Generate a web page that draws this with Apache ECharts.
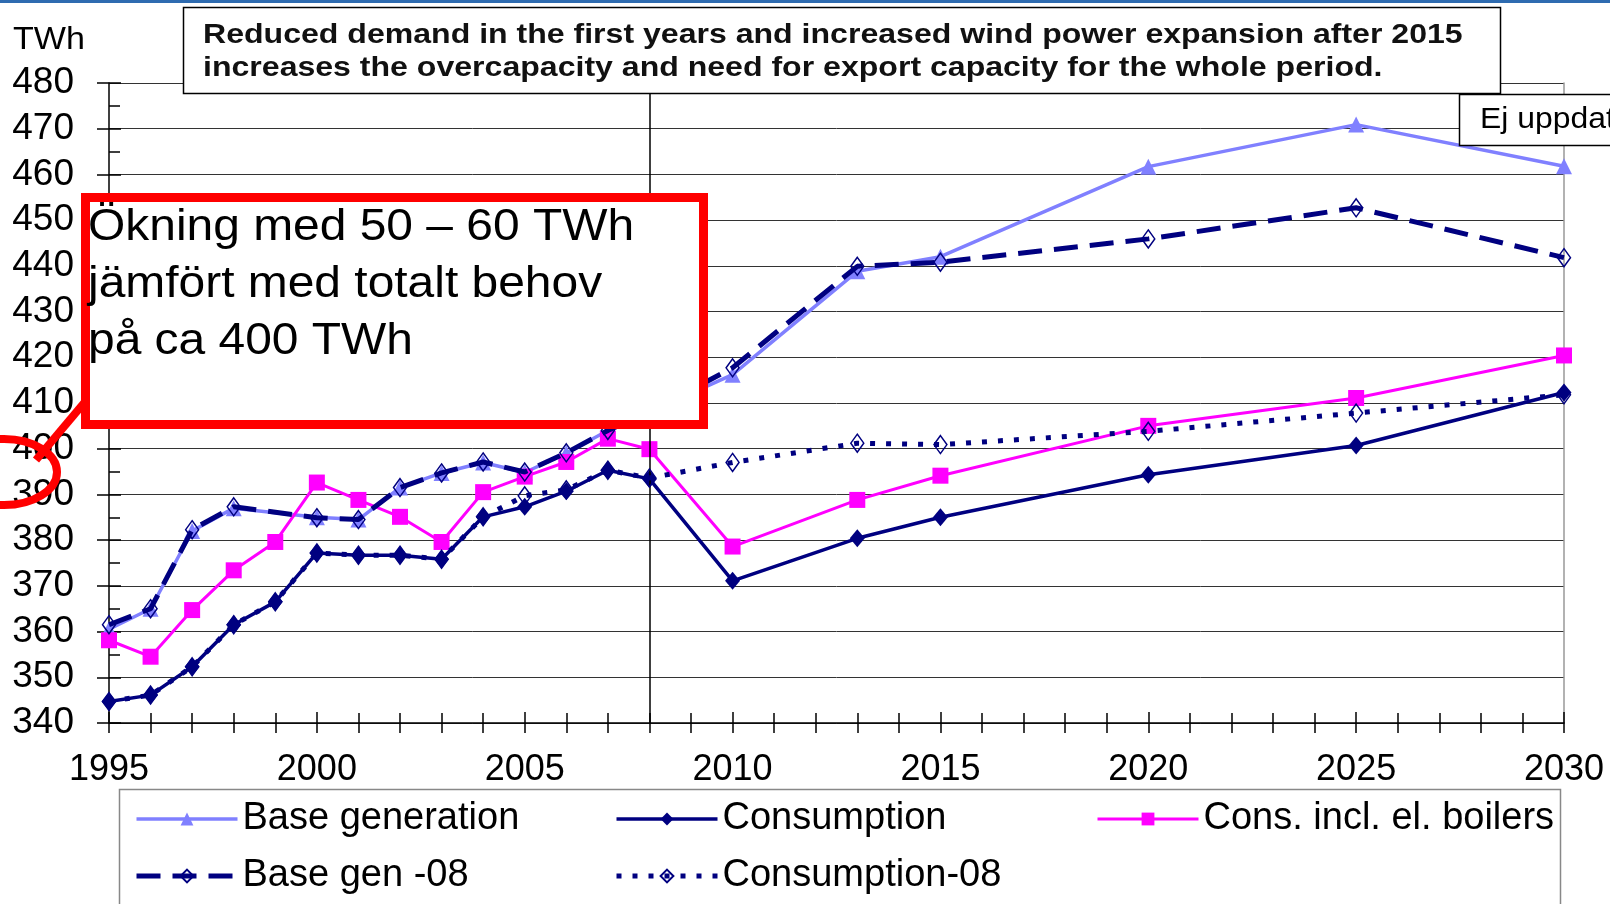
<!DOCTYPE html>
<html>
<head>
<meta charset="utf-8">
<script src="https://cdn.jsdelivr.net/npm/echarts@6/dist/echarts.min.js"></script>
<style>
html,body{margin:0;padding:0;background:#fff;}
#chart{width:1610px;height:904px;}
</style>
</head>
<body>
<div id="chart"></div>
<script>
// ---- data ----
const seriesNames = ['Base generation', 'Consumption', 'Cons. incl. el. boilers', 'Base gen -08', 'Consumption-08'];

const baseGenYears = [1995,1996,1997,1998,2000,2001,2002,2003,2004,2005,2006,2007,2008,2010,2013,2015,2020,2025,2030];
const baseGen      = [360.5,365,382,387,385,384.5,391.5,394.7,397,394.8,399,404,408,416.2,438.8,442,461.7,470.9,461.8];
const baseGen08    = [361.5,365,382.3,387.3,384.9,384.5,391.5,394.7,397.1,394.9,399.1,404,408,417.7,439.9,440.8,445.9,452.7,441.8];

const consYears    = [1995,1996,1997,1998,1999,2000,2001,2002,2003,2004,2005,2006,2007,2008,2010,2013,2015,2020,2025,2030];
const consumption  = [344.7,346.1,352.3,361.5,366.5,377.2,376.7,376.7,375.8,385.1,387.3,390.7,395.3,393.4,371.1,380.4,385.0,394.3,400.7,412.3];
const consBoilers  = [358.1,354.5,364.7,373.4,379.6,392.6,388.8,385.1,379.6,390.5,393.9,397.1,402.2,399.9,378.6,388.8,394.1,405.0,411.1,420.4];
const consumption08= [344.7,346.1,352.3,361.5,366.5,377.2,376.7,376.7,375.8,385.1,389.7,391.0,395.3,393.6,397.0,401.2,400.9,403.8,407.8,411.8];

const xMin = 1995, xMax = 2030, xStep = 5;
const yMin = 340, yMax = 480, yStep = 10;
const markYear = 2008;

const unitLabel = 'TWh';
const titleLines = ['Reduced demand in the first years and increased wind power expansion after 2015',
                    'increases the overcapacity and need for export capacity for the whole period.'];
const noteText = 'Ej uppdat';
const boxLines = ['Ökning med 50 – 60 TWh', 'jämfört med totalt behov', 'på ca 400 TWh'];

// ---- chart ----
const FONT = '"Liberation Sans", Arial, sans-serif';
const pair = (xs, ys) => xs.map((x, i) => [x, ys[i]]);
const chart = echarts.init(document.getElementById('chart'), null, {renderer: 'canvas'});

const LIGHT = '#8080FF', NAVY = '#000080', MAG = '#FF00FF';

const xCommon = {type: 'value', min: xMin, max: xMax, interval: xStep, gridIndex: 0, position: 'bottom'};
const yCommon = {type: 'value', min: yMin, max: yMax, interval: yStep, gridIndex: 0};

const legendBase = {
  orient: 'vertical', top: 800, itemGap: 19, padding: 0,
  itemWidth: 101, itemHeight: 16, height: 104,
  lineStyle: {width: 'inherit'},
  textStyle: {fontSize: 38, fontFamily: FONT, color: '#000', lineHeight: 38, padding: [0, 0, 0, 0]}
};

const option = {
  animation: false,
  backgroundColor: '#fff',
  grid: {left: 109, right: 46, top: 83, bottom: 181, containLabel: false, outerBoundsMode: 'none'},
  xAxis: [
    Object.assign({}, xCommon, {
      axisLine: {show: true, lineStyle: {color: '#000', width: 1.5}},
      axisTick: {show: true, length: 10, inside: false, lineStyle: {color: '#000', width: 1.5}},
      minorTick: {show: true, splitNumber: 5, length: 10, lineStyle: {color: '#000', width: 1.5}},
      axisLabel: {show: true, fontSize: 36, fontFamily: FONT, color: '#000', margin: 29,
                  formatter: v => String(v)},
      splitLine: {show: false}
    }),
    Object.assign({}, xCommon, {
      axisLine: {show: false},
      axisTick: {show: true, length: 11, inside: true, lineStyle: {color: '#000', width: 1.5}},
      minorTick: {show: true, splitNumber: 5, length: 10, lineStyle: {color: '#000', width: 1.5}},
      axisLabel: {show: false},
      splitLine: {show: false}
    })
  ],
  yAxis: [
    Object.assign({}, yCommon, {
      position: 'left',
      axisLine: {show: true, lineStyle: {color: '#000', width: 1.5}},
      axisTick: {show: true, length: 12, inside: false, lineStyle: {color: '#000', width: 1.5}},
      axisLabel: {show: true, fontSize: 37, fontFamily: FONT, color: '#000', margin: 35,
                  formatter: v => String(v)},
      splitLine: {show: true, lineStyle: {color: '#333', width: 1}}
    }),
    Object.assign({}, yCommon, {
      position: 'left',
      axisLine: {show: false},
      axisTick: {show: true, length: 12, inside: true, lineStyle: {color: '#000', width: 1.5}},
      minorTick: {show: true, splitNumber: 2, length: 11, lineStyle: {color: '#000', width: 1.5}},
      axisLabel: {show: false},
      splitLine: {show: false}
    }),
    Object.assign({}, yCommon, {
      position: 'right',
      axisLine: {show: true, lineStyle: {color: '#999', width: 1.5}},
      axisTick: {show: false},
      axisLabel: {show: false},
      splitLine: {show: false}
    })
  ],
  legend: [
    Object.assign({}, legendBase, {left: 134, data: [seriesNames[0], seriesNames[3]]}),
    Object.assign({}, legendBase, {left: 614, data: [seriesNames[1], seriesNames[4]]}),
    Object.assign({}, legendBase, {left: 1096, data: [seriesNames[2]]})
  ],
  series: [
    {
      name: seriesNames[0], type: 'line', xAxisIndex: 0, yAxisIndex: 0,
      data: pair(baseGenYears, baseGen),
      symbol: 'triangle', symbolSize: 16, showAllSymbol: true,
      lineStyle: {color: LIGHT, width: 3.5},
      itemStyle: {color: LIGHT},
      z: 2,
      markLine: {
        silent: true, symbol: 'none', label: {show: false},
        lineStyle: {color: '#000', type: 'solid', width: 1.5},
        data: [{xAxis: markYear}]
      }
    },
    {
      name: seriesNames[1], type: 'line', xAxisIndex: 0, yAxisIndex: 0,
      data: pair(consYears, consumption),
      symbol: 'diamond', symbolSize: [15, 18], showAllSymbol: true,
      lineStyle: {color: NAVY, width: 3.5},
      itemStyle: {color: NAVY},
      z: 3
    },
    {
      name: seriesNames[2], type: 'line', xAxisIndex: 0, yAxisIndex: 0,
      data: pair(consYears, consBoilers),
      symbol: 'rect', symbolSize: 16, showAllSymbol: true,
      lineStyle: {color: MAG, width: 3},
      itemStyle: {color: MAG},
      z: 4
    },
    {
      name: seriesNames[3], type: 'line', xAxisIndex: 0, yAxisIndex: 0,
      data: pair(baseGenYears, baseGen08),
      symbol: 'diamond', symbolSize: [13, 18], showAllSymbol: true,
      lineStyle: {color: NAVY, width: 5, type: [24, 12]},
      itemStyle: {color: 'rgba(255,255,255,0)', borderColor: NAVY, borderWidth: 1.5},
      z: 5
    },
    {
      name: seriesNames[4], type: 'line', xAxisIndex: 0, yAxisIndex: 0,
      data: pair(consYears, consumption08),
      symbol: 'diamond', symbolSize: [13, 18], showAllSymbol: true,
      lineStyle: {color: NAVY, width: 5, type: [5, 11]},
      itemStyle: {color: 'rgba(255,255,255,0)', borderColor: NAVY, borderWidth: 1.5},
      z: 5
    }
  ],
  graphic: [
    {type: 'rect', shape: {x: 0, y: 0, width: 1610, height: 3}, style: {fill: '#2E6BB0'}, z: 100},
    {type: 'text', x: 13, y: 40, scaleX: 1.1, style: {text: unitLabel, fontSize: 31, fontFamily: FONT, fill: '#000', verticalAlign: 'middle'}, z: 100},
    {type: 'rect', shape: {x: 183.5, y: 7.5, width: 1317, height: 86}, style: {fill: '#fff', stroke: '#000', lineWidth: 1.5}, z: 100},
    {type: 'text', x: 203, y: 35, scaleX: 1.145, style: {text: titleLines[0], fontSize: 28, fontWeight: 'bold', fontFamily: FONT, fill: '#111', verticalAlign: 'middle'}, z: 101},
    {type: 'text', x: 203, y: 68, scaleX: 1.145, style: {text: titleLines[1], fontSize: 28, fontWeight: 'bold', fontFamily: FONT, fill: '#111', verticalAlign: 'middle'}, z: 101},
    {type: 'rect', shape: {x: 1459.5, y: 94.5, width: 200, height: 51}, style: {fill: '#fff', stroke: '#000', lineWidth: 1.5}, z: 100},
    {type: 'text', x: 1480, y: 120, scaleX: 1.1, style: {text: noteText, fontSize: 29, fontFamily: FONT, fill: '#000', verticalAlign: 'middle'}, z: 101},
    {type: 'rect', shape: {x: 85.5, y: 197.5, width: 618, height: 227}, style: {fill: '#fff', stroke: '#FF0000', lineWidth: 9}, z: 100},
    {type: 'text', x: 88, y: 228, scaleX: 1.065, style: {text: boxLines[0], fontSize: 45, fontFamily: FONT, fill: '#000', verticalAlign: 'middle'}, z: 101},
    {type: 'text', x: 88, y: 285, scaleX: 1.065, style: {text: boxLines[1], fontSize: 45, fontFamily: FONT, fill: '#000', verticalAlign: 'middle'}, z: 101},
    {type: 'text', x: 88, y: 342, scaleX: 1.065, style: {text: boxLines[2], fontSize: 45, fontFamily: FONT, fill: '#000', verticalAlign: 'middle'}, z: 101},
    {type: 'ellipse', shape: {cx: 4, cy: 472, rx: 53, ry: 33}, style: {fill: 'none', stroke: '#FF0000', lineWidth: 8}, z: 102},
    {type: 'line', shape: {x1: 84, y1: 403, x2: 36, y2: 460}, style: {stroke: '#FF0000', lineWidth: 8}, z: 102},
    {type: 'rect', shape: {x: 119.5, y: 789.5, width: 1441, height: 130}, style: {fill: 'none', stroke: '#888', lineWidth: 1.5}, z: 100}
  ]
};
chart.setOption(option);
</script>
</body>
</html>
